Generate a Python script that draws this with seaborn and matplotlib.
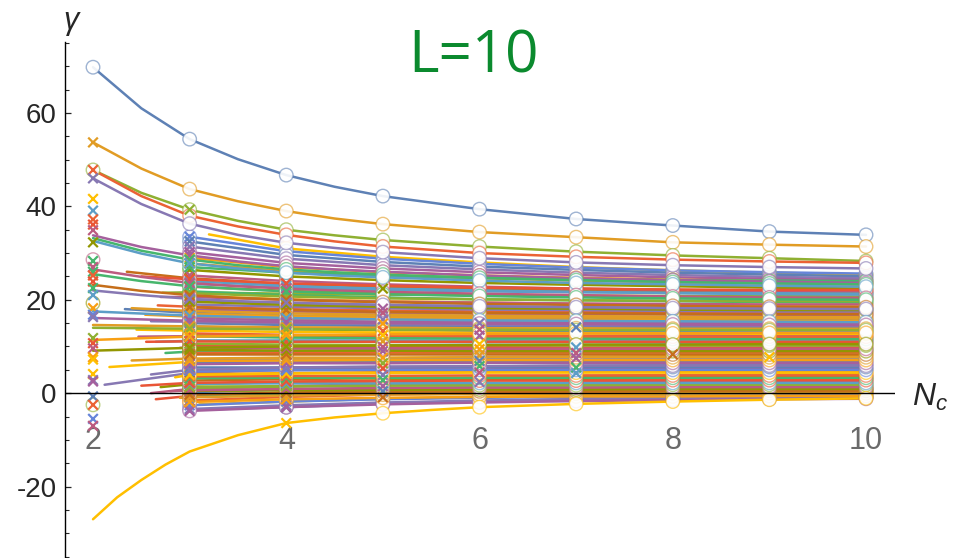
import numpy as np
import pandas as pd
import matplotlib
matplotlib.use("Agg")
import matplotlib.pyplot as plt
import seaborn as sns
from matplotlib.colors import to_rgba
from matplotlib.ticker import MultipleLocator

nan = np.nan

# ---------------- data ----------------
NC = [2, 3, 4, 5, 6, 7, 8, 9, 10]

# distinct curves, values at Nc = 2..10
TOP_BLUE = [69.8, 54.4, 46.7, 42.2, 39.4, 37.3, 35.9, 34.6, 33.9]
TOP_ORANGE = [53.7, 43.7, 39.0, 36.2, 34.5, 33.4, 32.3, 31.8, 31.4]
TOP_GREEN = [47.8, 39.3, 35.0, 32.8, 31.4, 30.3, 29.5, 28.9, 28.3]
TOP_RED = [47.8, 38.0, 33.9, 31.4, 30.0, 29.2, 28.6, 28.2, 27.9]
TOP_PURPLE = [46.0, 36.3, 32.2, 30.2, 28.9, 28.0, 27.4, 27.0, 26.7]
MID_PINK = [33.8, 29.5, 27.2, 26.0, 25.2, 24.6, 24.2, 23.9, 23.6]
MID_GREEN = [33.2, 28.6, 26.5, 25.4, 24.7, 24.2, 23.8, 23.5, 23.3]
MID_BLUE = [32.6, 27.8, 25.8, 24.8, 24.1, 23.6, 23.3, 23.0, 22.8]
MID_PINK2 = [26.5, 23.6, 22.4, 21.7, 21.3, 21.0, 20.7, 20.5, 20.4]
MID_GREEN2 = [25.5, 22.9, 21.8, 21.2, 20.8, 20.5, 20.3, 20.1, 20.0]
MID_BROWN = [23.2, 21.0, 20.0, 19.5, 19.1, 18.9, 18.7, 18.5, 18.4]
MID_PURPLE = [22.0, 20.2, 19.4, 18.9, 18.6, 18.4, 18.2, 18.1, 18.0]
LOW_BLUE = [17.5, 16.6, 16.1, 15.8, 15.6, 15.5, 15.4, 15.3, 15.2]
LOW_PINK = [16.1, 15.5, 15.2, 15.0, 14.9, 14.8, 14.7, 14.6, 14.6]
LOW_ORANGE = [14.6, 14.3, 14.1, 14.0, 13.9, 13.9, 13.8, 13.8, 13.8]
LOW_GREEN = [14.0, 13.8, 13.7, 13.6, 13.6, 13.5, 13.5, 13.5, 13.5]
LOW_ORANGE2 = [11.4, 12.1, 12.4, 12.6, 12.7, 12.8, 12.8, 12.9, 12.9]
LOW_OLIVE = [9.1, 9.7, 10.0, 10.2, 10.3, 10.4, 10.4, 10.5, 10.5]
BOTTOM_YELLOW = [-27.0, -12.5, -6.4, -4.3, -3.0, -2.3, -1.8, -1.4, -1.1]

# extra readings between integer Nc for the strongly bent curves
MID_N = [2.5, 3.5, 4.5]
TOP_BLUE_MID = [61.0, 50.1, 44.2]
TOP_ORANGE_MID = [48.1, 41.1, 37.4]
TOP_GREEN_MID = [42.9, 36.9, 33.8]
TOP_RED_MID = [42.2, 35.7, 32.5]
TOP_PURPLE_MID = [40.5, 33.9, 31.1]
MID_PINK_MID = [31.3, 28.2, 26.5]
MID_GREEN_MID = [30.5, 27.4, 25.9]
MID_BLUE_MID = [29.9, 26.7, 25.2]
MID_PINK2_MID = [24.9, 22.9, 22.0]
MID_GREEN2_MID = [24.0, 22.3, 21.5]
MID_BROWN_MID = [21.9, 20.4, 19.7]
MID_PURPLE_MID = [21.0, 19.7, 19.1]
YELLOW_MID_N = [2.25, 2.5, 2.75, 3.5, 4.5, 5.5]
BOTTOM_YELLOW_MID = [-22.3, -18.6, -15.3, -9.0, -5.2, -3.6]

# dense band: optional leading (non-integer) start point, then values at Nc = 3..10
BAND_LEAD_N = [3.2, nan, nan, nan, nan, nan, nan, 2.35, nan, nan,
               2.72, nan, nan, nan, 2.67, nan, nan, 2.33, nan, nan,
               2.54, nan, nan, nan, 2.47, nan, 2.65, nan, 2.75, nan,
               2.17, nan, nan, 2.12, nan, nan, 4.45, nan, 2.7, 2.6,
               nan, nan, 2.65, nan, nan, 3.1, nan, 3.3, nan, nan,
               nan, 2.9, nan, nan, 2.8, nan, nan, 2.5, nan, nan,
               2.85, nan, nan, 2.6, nan, nan, 2.4, nan, nan, 2.9,
               nan, nan, 2.55, nan, nan, 2.45, nan, nan, 2.6, nan,
               nan, 2.4, nan, nan, 2.7, nan, nan, 2.5, nan]
BAND_LEAD_V = [34.0, nan, nan, nan, nan, nan, nan, 26.0, nan, nan,
               21.5, nan, nan, nan, 18.8, nan, nan, 18.0, nan, nan,
               16.8, nan, nan, nan, 12.1, nan, 11.0, nan, 8.6, nan,
               5.6, nan, nan, 1.8, nan, nan, 1.9, nan, 1.3, 0.0,
               nan, nan, -1.3, nan, nan, -2.4, nan, -3.4, nan, nan,
               nan, -1.0, nan, nan, 0.4, nan, nan, 1.6, nan, nan,
               3.4, nan, nan, 4.0, nan, nan, 7.0, nan, nan, 9.7,
               nan, nan, 11.0, nan, nan, 13.6, nan, nan, 15.4, nan,
               nan, 18.2, nan, nan, 20.6, nan, nan, 25.0, nan]
BAND_N3 = [nan, 33.5, 32.5, 31.4, 30.2, 29.0, 27.8, 24.6, 26.4, 25.2,
           21.6, 24.0, 22.8, 21.8, 18.5, 20.8, 19.8, 17.2, 19.0, 17.9,
           16.4, 17.0, 15.2, 14.0, 12.2, 12.4, 11.2, 10.2, 8.9, 8.6,
           6.7, 7.2, 6.4, 4.3, 4.9, 4.0, nan, 2.7, 1.9, 0.9,
           1.0, 0.2, -0.6, -0.8, -1.6, nan, -2.6, nan, -3.4, -3.8,
           -1.9, -0.9, -0.3, 0.5, 0.6, 1.4, 2.0, 2.2, 3.2, 3.6,
           3.9, 4.8, 5.5, 5.0, 6.2, 6.9, 7.4, 8.3, 9.3, 9.8,
           10.6, 11.3, 11.1, 12.2, 12.8, 13.4, 14.3, 15.0, 15.3, 16.0,
           16.8, 17.6, 18.4, 19.6, 20.6, 21.4, 23.4, 24.4, 27.0]
BAND_N4 = [31.0, 30.4, 29.6, 28.8, 27.9, 27.0, 26.1, 23.4, 25.0, 24.0,
           21.3, 23.0, 21.9, 21.0, 18.0, 20.1, 19.3, 16.6, 18.5, 17.5,
           16.0, 16.6, 14.9, 13.7, 12.3, 12.2, 11.3, 10.0, 9.1, 8.6,
           7.2, 7.3, 6.6, 5.0, 5.0, 4.3, nan, 3.0, 2.4, 1.5,
           1.4, 0.8, 0.1, -0.1, -0.8, -1.8, -1.8, -3.0, -2.6, -3.0,
           -1.3, -0.5, 0.1, 0.6, 0.9, 1.5, 2.1, 2.5, 3.3, 3.7,
           4.2, 4.9, 5.5, 5.5, 6.4, 7.0, 7.6, 8.3, 9.1, 9.6,
           10.4, 11.1, 11.0, 11.9, 12.5, 13.1, 13.9, 14.6, 15.0, 15.6,
           16.3, 17.1, 17.8, 18.9, 20.0, 20.7, 22.6, 23.5, 25.8]
BAND_N5 = [29.2, 28.8, 28.1, 27.4, 26.7, 25.9, 25.2, 22.8, 24.2, 23.3,
           21.1, 22.4, 21.3, 20.5, 17.7, 19.7, 18.9, 16.3, 18.2, 17.2,
           15.8, 16.4, 14.7, 13.5, 12.3, 12.0, 11.3, 9.9, 9.2, 8.7,
           7.5, 7.4, 6.7, 5.4, 5.1, 4.5, 2.7, 3.2, 2.7, 1.9,
           1.7, 1.1, 0.5, 0.3, -0.3, -1.2, -1.3, -2.2, -2.0, -2.4,
           -1.0, -0.3, 0.3, 0.7, 1.1, 1.6, 2.1, 2.6, 3.3, 3.7,
           4.3, 5.0, 5.6, 5.7, 6.4, 7.1, 7.6, 8.3, 9.1, 9.6,
           10.3, 11.0, 11.0, 11.8, 12.3, 13.0, 13.7, 14.4, 14.8, 15.3,
           16.0, 16.8, 17.4, 18.5, 19.6, 20.3, 22.1, 23.0, 25.1]
BAND_N6 = [28.0, 27.7, 27.1, 26.5, 25.9, 25.2, 24.6, 22.3, 23.6, 22.8,
           21.0, 22.0, 21.0, 20.1, 17.5, 19.4, 18.6, 16.1, 17.9, 17.0,
           15.6, 16.3, 14.5, 13.4, 12.3, 11.9, 11.3, 9.9, 9.3, 8.7,
           7.7, 7.4, 6.8, 5.7, 5.1, 4.6, 3.3, 3.3, 2.8, 2.1,
           1.8, 1.3, 0.7, 0.4, 0.0, -0.8, -1.0, -1.7, -1.6, -2.0,
           -0.8, -0.2, 0.4, 0.8, 1.2, 1.7, 2.2, 2.7, 3.3, 3.8,
           4.4, 5.0, 5.6, 5.8, 6.5, 7.1, 7.7, 8.3, 9.0, 9.5,
           10.3, 10.9, 11.0, 11.7, 12.2, 12.9, 13.5, 14.2, 14.6, 15.2,
           15.8, 16.6, 17.2, 18.2, 19.4, 20.1, 21.8, 22.6, 24.7]
BAND_N7 = [27.0, 26.9, 26.4, 25.8, 25.3, 24.7, 24.1, 22.0, 23.2, 22.4,
           20.9, 21.7, 20.7, 19.9, 17.4, 19.1, 18.4, 15.9, 17.8, 16.9,
           15.5, 16.2, 14.4, 13.3, 12.3, 11.9, 11.3, 9.8, 9.3, 8.7,
           7.8, 7.4, 6.8, 5.9, 5.2, 4.7, 3.7, 3.4, 2.9, 2.3,
           1.9, 1.4, 0.9, 0.5, 0.1, -0.5, -0.8, -1.3, -1.3, -1.7,
           -0.7, -0.1, 0.4, 0.8, 1.2, 1.7, 2.2, 2.7, 3.3, 3.8,
           4.4, 5.0, 5.6, 5.9, 6.5, 7.1, 7.7, 8.3, 9.0, 9.5,
           10.2, 10.9, 11.0, 11.7, 12.2, 12.8, 13.4, 14.1, 14.5, 15.1,
           15.7, 16.5, 17.1, 18.1, 19.2, 19.9, 21.6, 22.4, 24.4]
BAND_N8 = [26.3, 26.3, 25.8, 25.3, 24.8, 24.3, 23.7, 21.8, 22.9, 22.1,
           20.8, 21.4, 20.4, 19.7, 17.3, 18.9, 18.3, 15.8, 17.6, 16.8,
           15.4, 16.1, 14.3, 13.2, 12.4, 11.8, 11.3, 9.8, 9.3, 8.7,
           7.9, 7.4, 6.9, 6.0, 5.2, 4.7, 3.9, 3.4, 3.0, 2.4,
           2.0, 1.5, 1.0, 0.6, 0.2, -0.3, -0.6, -1.1, -1.1, -1.5,
           -0.7, 0.0, 0.5, 0.9, 1.3, 1.8, 2.2, 2.8, 3.3, 3.8,
           4.4, 5.0, 5.6, 5.9, 6.5, 7.1, 7.7, 8.3, 9.0, 9.5,
           10.2, 10.8, 11.0, 11.6, 12.1, 12.8, 13.4, 14.1, 14.5, 15.0,
           15.6, 16.4, 17.0, 17.9, 19.1, 19.8, 21.5, 22.2, 24.2]
BAND_N9 = [25.8, 25.9, 25.4, 24.9, 24.5, 24.0, 23.4, 21.6, 22.6, 21.9,
           20.8, 21.2, 20.3, 19.5, 17.2, 18.8, 18.2, 15.7, 17.5, 16.7,
           15.3, 16.1, 14.3, 13.2, 12.4, 11.8, 11.3, 9.8, 9.3, 8.7,
           8.0, 7.4, 6.9, 6.1, 5.2, 4.7, 4.0, 3.5, 3.0, 2.5,
           2.0, 1.5, 1.0, 0.6, 0.3, -0.2, -0.5, -0.9, -1.0, -1.3,
           -0.6, 0.0, 0.5, 0.9, 1.3, 1.8, 2.2, 2.8, 3.3, 3.8,
           4.4, 5.0, 5.6, 5.9, 6.5, 7.1, 7.7, 8.3, 9.0, 9.5,
           10.2, 10.8, 11.0, 11.6, 12.1, 12.7, 13.3, 14.0, 14.4, 14.9,
           15.5, 16.3, 16.9, 17.8, 19.0, 19.7, 21.4, 22.1, 24.1]
BAND_N10 = [25.4, 25.6, 25.0, 24.6, 24.2, 23.8, 23.2, 21.5, 22.4, 21.8,
            20.7, 21.1, 20.2, 19.4, 17.2, 18.7, 18.1, 15.7, 17.5, 16.6,
            15.3, 16.0, 14.2, 13.1, 12.4, 11.8, 11.3, 9.8, 9.3, 8.7,
            8.0, 7.4, 6.9, 6.2, 5.2, 4.7, 4.1, 3.5, 3.0, 2.5,
            2.0, 1.5, 1.1, 0.7, 0.3, -0.1, -0.4, -0.8, -0.9, -1.2,
            -0.6, 0.0, 0.5, 0.9, 1.3, 1.8, 2.2, 2.8, 3.3, 3.8,
            4.4, 5.0, 5.6, 5.9, 6.5, 7.1, 7.7, 8.3, 9.0, 9.5,
            10.2, 10.8, 11.0, 11.6, 12.1, 12.7, 13.3, 14.0, 14.4, 14.9,
            15.5, 16.3, 16.9, 17.8, 19.0, 19.7, 21.3, 22.1, 24.0]

# isolated markers at Nc = 2
X2_V = [53.7, 47.8, 46.0, 41.6, 39.1, 37.2, 36.1, 34.9, 32.3, 28.3, 27.0, 26.0,
        25.2, 23.9, 22.5, 21.0, 18.2, 16.8, 16.3, 11.8, 10.7, 9.6, 7.7, 7.2,
        4.1, 2.8, 2.5, -0.7, -2.5, -5.5, -7.0]
X2_C = [1, 3, 4, 7, 6, 3, 10, 13, 9, 14, 13, 14,
        3, 10, 14, 6, 12, 11, 4, 2, 10, 13, 12, 7,
        7, 4, 8, 0, 3, 11, 13]
C2_V = [69.8, 47.8, 28.6, 19.3, -2.5]
C2_C = [0, 2, 13, 9, 2]

# cross markers at higher Nc
X5_V = [22.4, 18.1, 17.2, 15.8, 14.9, 13.3, 12.4, 11.1, 9.9, 9.0, 7.6, 6.4,
        5.3, 3.9, 2.8, 1.5, 0.4, -0.9]
X5_C = [9, 8, 13, 4, 12, 3, 7, 1, 13, 8, 12, 2, 10, 4, 14, 8, 0, 5]
X6_V = [15.0, 13.6, 12.3, 10.5, 9.4, 8.1, 6.9, 5.8, 4.4, 2.4]
X6_C = [4, 13, 8, 7, 12, 1, 0, 14, 13, 4]
X7_V = [14.1, 9.8, 8.6, 7.5, 5.5, 4.3]
X7_C = [0, 6, 13, 8, 14, 6]
X8_V = [8.3]
X8_C = [5]
X9_V = [7.7]
X9_C = [7]

Y_TICKS = [-20, 0, 20, 40, 60]
X_LABELS = ["2", "4", "6", "8", "10"]
X_LABEL_POS = [2, 4, 6, 8, 10]
TITLE = "L=10"

# ---------------- style ----------------
PALETTE = ["#5E81B5", "#E19C24", "#8FB032", "#EB6235", "#8778B3",
           "#C56E1A", "#5D9EC7", "#FFBF00", "#A5609D", "#929600",
           "#E95536", "#6685D9", "#F89F13", "#BC5B80", "#47B66D"]

KEY_CURVES = [TOP_BLUE, TOP_ORANGE, TOP_GREEN, TOP_RED, TOP_PURPLE,
              MID_PINK, MID_GREEN, MID_BLUE, MID_PINK2, MID_GREEN2,
              MID_BROWN, MID_PURPLE, LOW_BLUE, LOW_PINK, LOW_ORANGE,
              LOW_GREEN, LOW_ORANGE2, LOW_OLIVE, BOTTOM_YELLOW]
KEY_MIDS = [(MID_N, TOP_BLUE_MID), (MID_N, TOP_ORANGE_MID), (MID_N, TOP_GREEN_MID),
            (MID_N, TOP_RED_MID), (MID_N, TOP_PURPLE_MID), (MID_N, MID_PINK_MID),
            (MID_N, MID_GREEN_MID), (MID_N, MID_BLUE_MID), (MID_N, MID_PINK2_MID),
            (MID_N, MID_GREEN2_MID), (MID_N, MID_BROWN_MID), (MID_N, MID_PURPLE_MID),
            None, None, None, None, None, None,
            (YELLOW_MID_N, BOTTOM_YELLOW_MID)]
KEY_COLORS = [0, 1, 2, 3, 4, 8, 14, 6, 13, 14, 5, 4, 6, 8, 1, 2, 12, 9, 7]
KEY_MARK_FROM = [3] * 18 + [5]
KEY_X_AT3 = [False, False, True, False, False] + [True] * 13 + [False]

BAND_COLS = [BAND_N3, BAND_N4, BAND_N5, BAND_N6, BAND_N7, BAND_N8, BAND_N9, BAND_N10]
BAND_COL_N = [3, 4, 5, 6, 7, 8, 9, 10]

sns.set_style("white")
plt.rcParams["font.family"] = ["Liberation Sans", "DejaVu Sans"]
plt.rcParams["mathtext.fontset"] = "custom"
plt.rcParams["mathtext.it"] = "Liberation Sans:italic"
plt.rcParams["mathtext.rm"] = "Liberation Sans"

W, H = 954, 558
fig = plt.figure(figsize=(W / 100, H / 100), dpi=100)
ax = fig.add_axes([65 / W, 0, (895 - 65) / W, 1 - 42 / H])

# ---------------- lines ----------------
rows = []
colors = {}
hue_order = []
circ = []   # (n, v, color)
cross = []  # (n, v, color)

for i in range(len(BAND_N3)):
    lid = f"b{i}"
    col = PALETTE[(i * 4 + 7) % 15]
    colors[lid] = col
    hue_order.append(lid)
    if not np.isnan(BAND_LEAD_N[i]):
        rows.append((lid, BAND_LEAD_N[i], BAND_LEAD_V[i]))
    for n, arr in zip(BAND_COL_N, BAND_COLS):
        v = arr[i]
        if not np.isnan(v):
            rows.append((lid, n, v))
            circ.append((n, v, col))
            if n == 3 or (n == 4 and v < 24):
                cross.append((n, v, col))

for k, vals in enumerate(KEY_CURVES):
    lid = f"k{k}"
    col = PALETTE[KEY_COLORS[k]]
    colors[lid] = col
    hue_order.append(lid)
    for n, v in zip(NC, vals):
        rows.append((lid, n, v))
        if n >= KEY_MARK_FROM[k]:
            circ.append((n, v, col))
        if n == 3 and KEY_X_AT3[k]:
            cross.append((n, v, col))
        if n == 4 and v < 24:
            cross.append((n, v, col))
    if KEY_MIDS[k] is not None:
        for n, v in zip(*KEY_MIDS[k]):
            rows.append((lid, n, v))

df = pd.DataFrame(rows, columns=["line", "Nc", "gamma"])
sns.lineplot(data=df, x="Nc", y="gamma", hue="line", hue_order=hue_order,
             palette=colors, estimator=None, sort=True, legend=False,
             linewidth=1.8, ax=ax)

# ---------------- markers ----------------
for v, c in zip(C2_V, C2_C):
    circ.append((2, v, PALETTE[c]))
for v, c in zip(X2_V, X2_C):
    cross.append((2, v, PALETTE[c]))
for n, vs, cs in [(5, X5_V, X5_C), (6, X6_V, X6_C), (7, X7_V, X7_C),
                  (8, X8_V, X8_C), (9, X9_V, X9_C)]:
    for v, c in zip(vs, cs):
        cross.append((n, v, PALETTE[c]))

cx = [p[0] for p in circ]
cy = [p[1] for p in circ]
ce = [to_rgba(p[2], 0.6) for p in circ]
ax.scatter(cx, cy, s=95, facecolors=[(1, 1, 1, 0.9)] * len(cx),
           edgecolors=ce, linewidths=1.0, zorder=3)

xx = [p[0] for p in cross]
xy = [p[1] for p in cross]
xc = [p[2] for p in cross]
ax.scatter(xx, xy, s=48, marker="x", c=xc, linewidths=1.6, zorder=4)

# ---------------- axes ----------------
ax.set_xlim(1.71, 10.3)
ax.set_ylim(-35.3, 75.2)
ax.axhline(0, color="black", lw=1.0, zorder=5)
for s in ["top", "right", "bottom"]:
    ax.spines[s].set_visible(False)
ax.spines["left"].set_color("black")
ax.spines["left"].set_linewidth(1.0)
ax.set_xticks([])
ax.set_yticks(Y_TICKS)
ax.set_yticklabels([str(t) for t in Y_TICKS])
ax.yaxis.set_minor_locator(MultipleLocator(5))
ax.tick_params(axis="y", which="major", direction="in", length=4.5, width=0.9,
               labelsize=20, pad=6, left=True)
ax.tick_params(axis="y", which="minor", direction="in", length=3, width=0.8, left=True)
ax.set_xlabel("")
ax.set_ylabel("")

for xp, lab in zip(X_LABEL_POS, X_LABELS):
    ax.text(xp, -10.2, lab, ha="center", va="center", fontsize=22, color="#6a6a6a")

fig.text(71 / W, 1 - 21 / H, "γ", fontsize=22, style="italic", ha="center", va="center")
fig.text(930 / W, 1 - 397 / H, r"$N_c$", fontsize=23, ha="center", va="center")
fig.text(474 / W, 1 - 57 / H, TITLE, fontsize=42, color="#0B8A2E",
         ha="center", va="center", family=["Open Sans", "DejaVu Sans"])

fig.savefig("out.png", dpi=100)
